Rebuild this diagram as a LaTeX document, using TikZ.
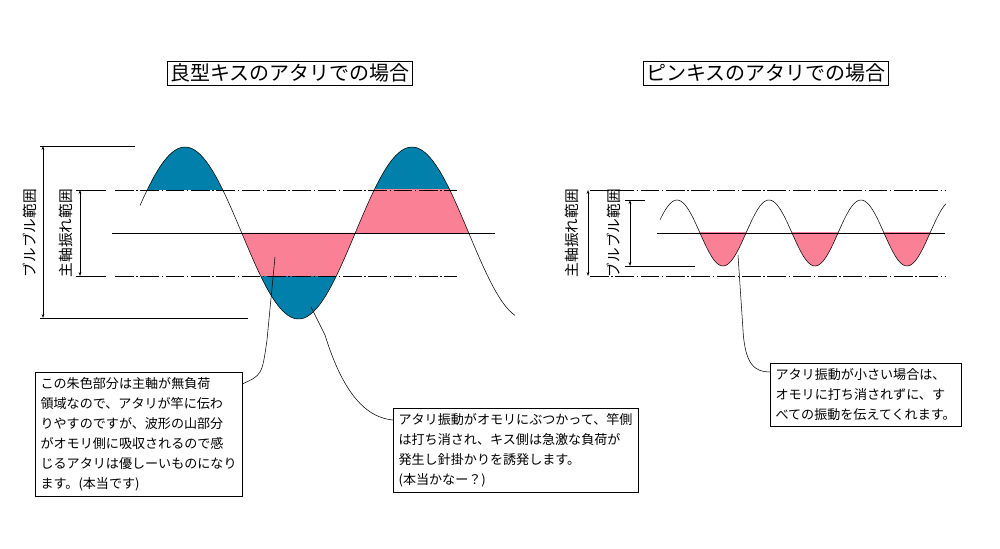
\documentclass[tikz,border=0pt]{standalone}
\usepackage{fontspec}
\setmainfont{Noto Sans CJK JP}
\usetikzlibrary{arrows.meta}
\definecolor{ablue}{RGB}{0,128,170}
\definecolor{apink}{RGB}{250,128,150}
\tikzset{
  dimline/.style={thin,{Stealth[length=3pt,width=2pt]}-{Stealth[length=3pt,width=2pt]}},
  rangelbl/.style={rotate=90,font=\fontsize{11}{12}\selectfont},
  titlebox/.style={draw,thin,inner sep=2pt,font=\fontsize{15}{17}\selectfont},
  notebox/.style={draw,thin,align=left,inner sep=4pt,font=\fontsize{9.8}{15}\selectfont},
  guide/.style={thin,dash pattern=on 14pt off 2pt on 1pt off 2pt}
}
\begin{document}
\begin{tikzpicture}[x=0.75pt,y=-0.75pt,thin]
\useasboundingbox (0,0) rectangle (1000,549);

% titles
\node[titlebox] (T1) at (290,73) {良型キスのアタリでの場合};
\node[titlebox] (T2) at (766,73) {ピンキスのアタリでの場合};

% left: fills
\begin{scope}
  \clip (100,140) rectangle (530,190);
  \fill[ablue] plot[domain=140:241.75,samples=60] (\x,{233-86*cos(1.5859*(\x-185))}) -- cycle;
  \fill[ablue] plot[domain=355.25:468.75,samples=60] (\x,{233-86*cos(1.5859*(\x-185))}) -- cycle;
\end{scope}
\begin{scope}
  \clip (100,190) rectangle (530,233);
  \fill[apink] plot[domain=355.25:468.75,samples=60] (\x,{233-86*cos(1.5859*(\x-185))}) -- cycle;
\end{scope}
\begin{scope}
  \clip (100,233) rectangle (530,276);
  \fill[apink] plot[domain=241.75:355.25,samples=60] (\x,{233-86*cos(1.5859*(\x-185))}) -- cycle;
\end{scope}
\begin{scope}
  \clip (100,276) rectangle (530,330);
  \fill[ablue] plot[domain=241.75:355.25,samples=60] (\x,{233-86*cos(1.5859*(\x-185))}) -- cycle;
\end{scope}

% left: lines and wave
\draw[guide] (115,190) -- (457,190);
\draw[guide] (115,276) -- (457,276);
\draw (112,233) -- (495,233);
\draw plot[domain=140:515,samples=120] (\x,{233-86*cos(1.5859*(\x-185))});

% left: ranges
\draw (40,146) -- (135,146);
\draw (40,318) -- (248,318);
\draw (76,190) -- (106,190);
\draw (76,276) -- (106,276);
\coordinate (L1a) at (43,146);
\coordinate (L1b) at (43,318);
\coordinate (L2a) at (80,190);
\coordinate (L2b) at (80,276);
\draw[dimline] (L1a) -- (L1b);
\draw[dimline] (L2a) -- (L2b);
\node[rangelbl] (R1) at (30,233) {ブルブル範囲};
\node[rangelbl] (R2) at (66,233) {主軸振れ範囲};

% right: fills
\begin{scope}
  \clip (650,233) rectangle (950,276);
  \fill[apink] plot[domain=660:946,samples=150] (\x,{233-33*cos(3.913*(\x-677))}) -- cycle;
\end{scope}

% right: lines and wave
\draw[guide] (590,190) -- (945,190);
\draw[guide] (590,276) -- (945,276);
\draw (657,233) -- (945,233);
\draw plot[domain=660:946,samples=150] (\x,{233-33*cos(3.913*(\x-677))});

% right: ranges
\draw (625,200) -- (645,200);
\draw (625,266) -- (695,266);
\coordinate (R1a) at (588,190);
\coordinate (R1b) at (588,276);
\coordinate (R2a) at (630,200);
\coordinate (R2b) at (630,266);
\draw[dimline] (R1a) -- (R1b);
\draw[dimline] (R2a) -- (R2b);
\node[rangelbl] (R3) at (572,233) {主軸振れ範囲};
\node[rangelbl] (R4) at (614,233) {ブルブル範囲};

% notes
\node[notebox,anchor=north west] (N1) at (35,372) {この朱色部分は主軸が無負荷\\領域なので、アタリが竿に伝わ\\りやすのですが、波形の山部分\\がオモリ側に吸収されるので感\\じるアタリは優しーいものになり\\ます。(本当です)};
\node[notebox,anchor=north west] (N2) at (393,408) {アタリ振動がオモリにぶつかって、竿側\\は打ち消され、キス側は急激な負荷が\\発生し針掛かりを誘発します。\\(本当かなー？)};
\node[notebox,anchor=north west] (N3) at (770,363) {アタリ振動が小さい場合は、\\オモリに打ち消されずに、す\\べての振動を伝えてくれます。};

% leaders
\coordinate (P1) at (275,257);
\coordinate (P2) at (311,307);
\coordinate (P3) at (738,255);
\draw (P1) -- (267,340) .. controls (262,375) .. (N1.north east |- 0,384);
\draw (P2) -- (325,335) .. controls (345,400) and (370,418) .. (N2.north west |- 0,420);
\draw (P3) -- (743,330) .. controls (745,365) and (755,372) .. (N3.north west |- 0,372);
\end{tikzpicture}
\end{document}
